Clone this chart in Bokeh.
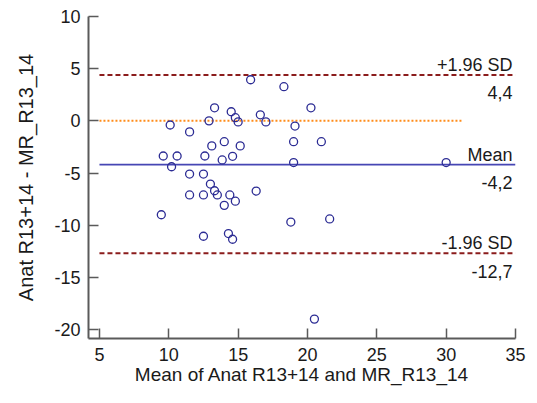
from bokeh.plotting import figure
from bokeh.models import Range1d, FixedTicker, ColumnDataSource
from bokeh.embed import file_html
from bokeh.resources import INLINE
from bokeh.core.properties import value

# Data
mean_x = [9.46, 9.6, 10.1, 10.2, 10.6, 11.5, 11.5, 12.5, 12.6, 12.9, 13.1, 13.3,
          13.85, 14.0, 14.5, 14.6, 14.8, 15.0, 13.0, 13.3, 13.5, 11.5, 12.5, 14.4,
          14.8, 14.0, 12.5, 14.3, 14.6, 15.9, 18.3, 16.6, 17.0, 20.25, 19.1, 15.15,
          19.0, 21.0, 19.0, 16.3, 18.8, 21.6, 20.5, 30.0]
diff_y = [-9.0, -3.37, -0.4, -4.4, -3.37, -1.06, -5.1, -5.1, -3.37, 0.0, -2.4, 1.25,
          -3.75, -2.0, 0.87, -3.4, 0.3, -0.1, -6.06, -6.7, -7.1, -7.1, -7.1, -7.1,
          -7.7, -8.1, -11.06, -10.8, -11.35, 3.94, 3.27, 0.58, -0.1, 1.25, -0.5, -2.4,
          -2.0, -2.0, -4.0, -6.73, -9.7, -9.4, -19.0, -4.0]

mean_diff = -4.2
upper_loa = 4.4
lower_loa = -12.7
line_names = ["+1.96 SD", "Mean", "-1.96 SD"]
line_values = [upper_loa, mean_diff, lower_loa]
line_value_labels = ["4,4", "-4,2", "-12,7"]

x_ticks = [5, 10, 15, 20, 25, 30, 35]
y_ticks = [-20, -15, -10, -5, 0, 5, 10]

FONT = "Liberation Sans"

p = figure(width=537, height=400, output_backend="svg", toolbar_location=None,
           x_range=Range1d(4.21, 35), y_range=Range1d(-20.86, 10),
           min_border_left=88, min_border_right=22, min_border_top=16, min_border_bottom=62)
p.outline_line_color = None
p.grid.visible = False
p.background_fill_color = "white"
p.border_fill_color = "white"

for ax in (p.xaxis[0], p.yaxis[0]):
    ax.axis_line_color = "#5a5a5a"
    ax.axis_line_width = 2
    ax.major_tick_line_color = "#5a5a5a"
    ax.major_tick_line_width = 1.5
    ax.major_tick_in = 10
    ax.major_tick_out = 0
    ax.minor_tick_line_color = None
    ax.major_label_text_font = FONT
    ax.major_label_text_font_size = "18px"
    ax.major_label_text_color = "#1a1a1a"
    ax.axis_label_text_font = FONT
    ax.axis_label_text_font_style = "normal"
    ax.axis_label_text_color = "#1a1a1a"

p.xaxis.axis_label_text_font_size = "19px"
p.yaxis.axis_label_text_font_size = "20px"
p.xaxis.ticker = FixedTicker(ticks=x_ticks)
p.yaxis.ticker = FixedTicker(ticks=y_ticks)
p.yaxis.major_label_overrides = {t: str(t) for t in y_ticks}
p.xaxis.major_label_overrides = {t: str(t) for t in x_ticks}
p.xaxis.axis_label = "Mean of Anat R13+14 and MR_R13_14"
p.yaxis.axis_label = "Anat R13+14 - MR_R13_14"
p.xaxis.major_label_standoff = 9
p.yaxis.major_label_standoff = 8
p.xaxis.axis_label_standoff = 0
p.yaxis.axis_label_standoff = 14

# zero line (orange dotted)
p.segment(x0=[5], y0=[0], x1=[31.2], y1=[0], line_color="#ff8c1a", line_width=2,
          line_dash="2 2")
# limits of agreement (dark red dashed)
p.segment(x0=[5, 5], y0=[upper_loa, lower_loa], x1=[35, 35], y1=[upper_loa, lower_loa],
          line_color="#8b1c1c", line_width=2, line_dash="5 3")
# mean line
p.segment(x0=[5], y0=[mean_diff], x1=[35], y1=[mean_diff], line_color="#4646b4",
          line_width=1.6)

src = ColumnDataSource(dict(x=mean_x, y=diff_y))
p.scatter("x", "y", source=src, size=8, fill_color=None, line_color="#2c2c94",
          line_width=1.3)

lab = ColumnDataSource(dict(x=[35] * 3, y=line_values, name=line_names, val=line_value_labels))
p.text("x", "y", text="name", source=lab, text_align="right", text_baseline="alphabetic",
       x_offset=-3, y_offset=-10, text_font=value(FONT), text_font_size="18px",
       text_color="#1a1a1a")
p.text("x", "y", text="val", source=lab, text_align="right", text_baseline="alphabetic",
       x_offset=-3, y_offset=18, text_font=value(FONT), text_font_size="18px",
       text_color="#1a1a1a")

open("out.html", "w").write(file_html(p, INLINE))
